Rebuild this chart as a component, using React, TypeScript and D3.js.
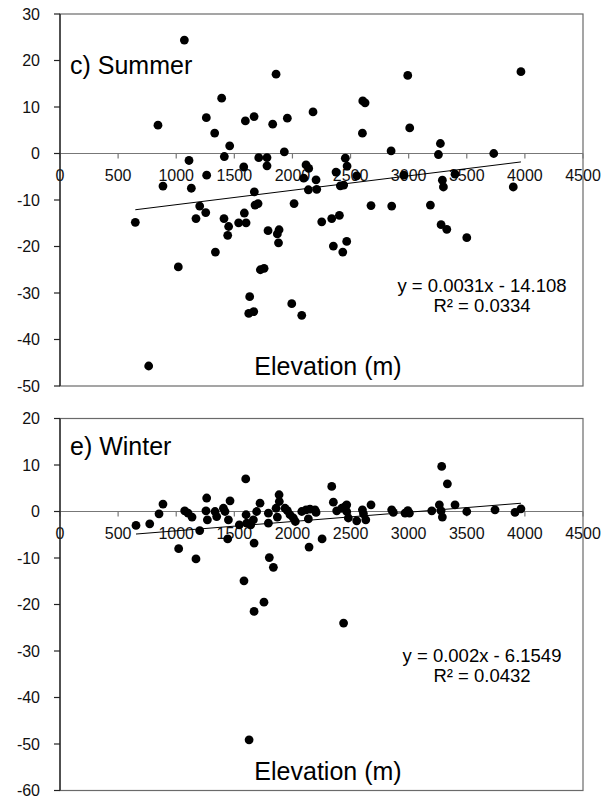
import React from 'react';
import * as d3 from 'd3';

// elevation (m) and values
const summerElev = [1070, 1859, 1391, 843, 1259, 1595, 1670, 1830, 1331, 1460, 1414, 1110, 1710, 1781, 1581, 1781, 1262, 886, 1130, 1672,
  2992, 2605, 2625, 2177, 1956, 2602, 3009, 3273, 2849, 1930, 3256, 3732, 2455, 2117, 2140, 2470, 2375, 2553, 2958, 3399,
  2097, 2203, 3290, 3299, 2412, 2441, 2137, 2209, 3900, 3966,
  648, 1202, 1254, 1170, 1411, 1586, 1451, 1443, 1537, 1601, 1678, 1704, 1337, 1018, 1724, 1756, 1632, 1624, 1667, 763,
  1790, 1870, 1885, 1880,
  2014, 2252, 2338, 2404, 2352, 2433, 2467, 2676, 2854, 3187, 3279, 3328, 3500, 1994, 2080];
const summerVal = [24.4, 17.05, 11.9, 6.1, 7.7, 7.0, 7.95, 6.3, 4.4, 1.65, -0.65, -1.5, -0.9, -0.87, -2.9, -2.66, -4.67, -7.0, -7.47, -8.25,
  16.8, 11.3, 10.9, 8.95, 7.6, 4.37, 5.5, 2.15, 0.56, 0.35, -0.22, 0, -1.0, -2.45, -3.2, -2.7, -4.0, -4.8, -4.67, -4.45,
  -5.3, -5.67, -5.74, -7.2, -6.96, -6.8, -7.8, -7.7, -7.2, 17.6,
  -14.8, -11.3, -12.7, -14.0, -14.0, -12.8, -15.7, -17.6, -14.9, -14.9, -11.1, -10.76, -21.2, -24.4, -25.0, -24.7, -30.8, -34.4, -34.0, -45.7,
  -16.6, -17.3, -16.4, -19.2,
  -10.76, -14.7, -14.0, -13.3, -19.9, -21.2, -18.9, -11.2, -11.3, -11.1, -15.3, -16.3, -18.1, -32.3, -34.8];

const winterElev = [654, 772, 852, 886, 1073, 1102, 1136, 1202, 1021, 1170,
  1598, 1262, 1463, 1256, 1268, 1334, 1348, 1406, 1420, 1449, 1443, 1543, 1601, 1607, 1641, 1664, 1670, 1692, 1721, 1793,
  1793, 1801, 1836, 1885, 1887, 1859, 1870, 1936, 1956, 1979, 2008, 2025, 2080, 2117, 2151, 2137, 2194, 2203, 2143, 2255,
  2338, 2352, 2381, 2424, 2453, 2467, 2481,
  2467, 2553, 2602, 2611, 2631, 2676, 2854, 2868, 2969, 2993, 3006, 3199, 3264, 3284, 3333, 3279, 3290, 3399, 3500, 3743,
  3915, 3966,
  1583, 1670, 1755, 2440, 1627];
const winterVal = [-3.0, -2.65, -0.5, 1.6, 0.15, -0.35, -1.2, -4.1, -8.0, -10.2,
  7.0, 2.9, 2.3, 0.15, -1.8, 0, -1.1, 0.7, 0, -1.8, -5.9, -2.86, -0.7, -2.5, -2.86, -1.8, -6.8, 0, 1.8, -0.35,
  -2.5, -9.9, -12.0, 3.6, 2.15, 0.7, -1.2, 0.7, 0.2, -0.7, -1.4, -2.15, 0, 0.36, 0.5, -1.6, 0.36, -0.2, -7.66, -5.9,
  5.4, 2.0, 0.15, 0.7, 1.07, 0, -1.4,
  1.44, -2.0, 0.36, -0.5, -1.8, 1.44, 0.36, -0.2, -0.35, 0.2, -0.35, 0.15, 1.44, 9.7, 5.96, 0.15, -1.2, 1.44, 0, 0.36,
  -0.2, 0.58,
  -14.9, -21.5, -19.5, -24.0, -49.1];

const xTicks = [0, 500, 1000, 1500, 2000, 2500, 3000, 3500, 4000, 4500];
const summerYTicks = [30, 20, 10, 0, -10, -20, -30, -40, -50];
const winterYTicks = [20, 10, 0, -10, -20, -30, -40, -50, -60];

// printed trend line fits
const summerFit = { slope: 0.0031, intercept: -14.108, eq: 'y = 0.0031x - 14.108', r2: 'R² = 0.0334' };
const winterFit = { slope: 0.002, intercept: -6.1549, eq: 'y = 0.002x - 6.1549', r2: 'R² = 0.0432' };

const FONT = 'Liberation Sans, Arial, sans-serif';

type PanelProps = {
  top: number;
  label: string;
  labelY: number;
  xs: number[];
  ys: number[];
  yTicks: number[];
  fit: typeof summerFit;
  eqY: number;
};

function Panel({ top, label, labelY, xs, ys, yTicks, fit, eqY }: PanelProps) {
  const left = 60, right = 583, h = 372;
  const x = d3.scaleLinear().domain([0, 4500]).range([left, right]);
  const y = d3.scaleLinear().domain(d3.extent(yTicks) as [number, number]).range([top + h, top]);
  const x0 = d3.min(xs)!, x1 = d3.max(xs)!;
  const fitLine = d3.line<number>().x(d => x(d)).y(d => y(fit.slope * d + fit.intercept));

  return (
    <g fontFamily={FONT}>
      <rect x={left} y={top} width={right - left} height={h} fill="#fff" stroke="#6a6a6a" strokeWidth={1.2} />
      {/* zero line with x ticks */}
      <line x1={left - 5} x2={right} y1={y(0)} y2={y(0)} stroke="#777" strokeWidth={1.2} />
      {xTicks.map(t => (
        <g key={t}>
          <line x1={x(t)} x2={x(t)} y1={y(0)} y2={y(0) + 5} stroke="#777" strokeWidth={1.2} />
          <text x={x(t)} y={y(0) + 27} textAnchor="middle" fontSize={16} fill="#111">{t}</text>
        </g>
      ))}
      {/* y axis */}
      <line x1={left} x2={left} y1={top} y2={top + h} stroke="#222" strokeWidth={1.3} />
      {yTicks.map(t => (
        <g key={t}>
          <line x1={left - 6} x2={left} y1={y(t)} y2={y(t)} stroke="#222" strokeWidth={1.2} />
          <text x={40} y={y(t)} dy="0.36em" textAnchor="end" fontSize={16} fill="#111">{t}</text>
        </g>
      ))}
      {xs.map((d, i) => (
        <circle key={i} cx={x(d)} cy={y(ys[i])} r={4.4} fill="#000" />
      ))}
      <path d={fitLine([x0, x1]) ?? ''} stroke="#000" strokeWidth={1} fill="none" />
      <text x={70} y={labelY} fontSize={25} fill="#000">{label}</text>
      <text x={482} y={eqY} textAnchor="middle" fontSize={18.5} fill="#000">{fit.eq}</text>
      <text x={482} y={eqY + 20} textAnchor="middle" fontSize={18.5} fill="#000">{fit.r2}</text>
      <text x={328} y={top + 361} textAnchor="middle" fontSize={25} fill="#000">Elevation (m)</text>
    </g>
  );
}

export default function App() {
  return (
    <svg width={614} height={800} style={{ position: 'absolute', left: 0, top: 0, background: '#fff' }}>
      <rect width={614} height={800} fill="#fff" />
      <Panel top={14} label="c) Summer" labelY={74} xs={summerElev} ys={summerVal}
        yTicks={summerYTicks} fit={summerFit} eqY={291.5} />
      <Panel top={418.5} label="e) Winter" labelY={455} xs={winterElev} ys={winterVal}
        yTicks={winterYTicks} fit={winterFit} eqY={661.5} />
    </svg>
  );
}
